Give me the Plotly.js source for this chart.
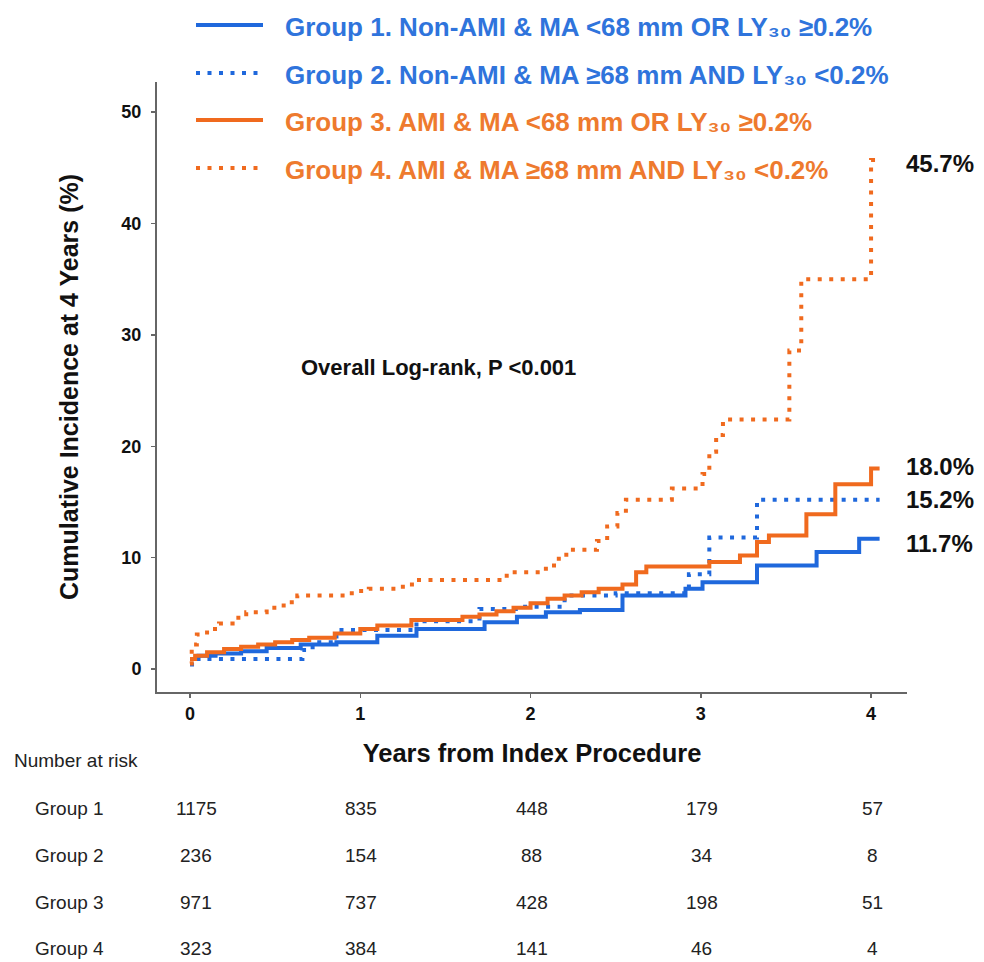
<!DOCTYPE html>
<html>
<head>
<meta charset="utf-8">
<script src="https://cdn.plot.ly/plotly-3.0.1.min.js"></script>
<style>html,body{margin:0;padding:0;background:#fff;}#chart{width:984px;height:962px;}</style>
</head>
<body>
<div id="chart"></div>
<script>
// ---- data ----
const g1x = [0, 0.05, 0.15, 0.3, 0.45, 0.65, 0.86, 1.1, 1.33, 1.73, 1.92, 2.09, 2.29, 2.54, 2.91, 3.01, 3.33, 3.68, 3.93, 4.05];
const g1y = [0.9, 1.2, 1.4, 1.6, 1.9, 2.2, 2.4, 3.0, 3.6, 4.2, 4.7, 5.1, 5.3, 6.6, 7.2, 7.8, 9.3, 10.5, 11.7, 11.7];

const g2x = [0, 0.04, 0.66, 0.72, 0.86, 1.33, 1.7, 1.95, 2.2, 2.5, 2.93, 3.05, 3.33, 4.05];
const g2y = [0.4, 0.9, 1.7, 2.4, 3.5, 4.3, 5.4, 5.6, 6.6, 6.8, 8.5, 11.8, 15.2, 15.2];

const g3x = [0, 0.03, 0.1, 0.2, 0.3, 0.4, 0.5, 0.6, 0.7, 0.85, 1.0, 1.1, 1.3, 1.6, 1.7, 1.8, 1.9, 2.0, 2.1, 2.2, 2.3, 2.4, 2.54, 2.62, 2.68, 3.05, 3.23, 3.33, 3.40, 3.62, 3.79, 4.0, 4.05];
const g3y = [0.9, 1.2, 1.5, 1.8, 2.0, 2.2, 2.4, 2.6, 2.8, 3.2, 3.6, 3.9, 4.4, 4.7, 4.9, 5.2, 5.5, 5.9, 6.3, 6.6, 6.9, 7.2, 7.6, 8.7, 9.2, 9.6, 10.2, 11.4, 12.0, 13.9, 16.6, 18.0, 18.0];

const g4x = [0, 0.01, 0.04, 0.1, 0.17, 0.25, 0.33, 0.45, 0.55, 0.63, 0.95, 1.05, 1.25, 1.33, 1.86, 2.09, 2.15, 2.21, 2.39, 2.45, 2.51, 2.56, 2.83, 3.01, 3.05, 3.09, 3.13, 3.52, 3.59, 4.0, 4.05];
const g4y = [0.5, 2.2, 3.1, 3.6, 4.1, 4.6, 5.1, 5.5, 6.0, 6.6, 7.0, 7.2, 7.6, 8.0, 8.7, 9.3, 9.9, 10.7, 11.5, 12.8, 14.0, 15.2, 16.2, 17.5, 19.5, 21.0, 22.4, 28.6, 35.0, 45.7, 45.7];

const groupNames = [
  "Group 1. Non-AMI &amp; MA &lt;68 mm OR LY₃₀ ≥0.2%",
  "Group 2. Non-AMI &amp; MA ≥68 mm AND LY₃₀ &lt;0.2%",
  "Group 3. AMI &amp; MA &lt;68 mm OR LY₃₀ ≥0.2%",
  "Group 4. AMI &amp; MA ≥68 mm AND LY₃₀ &lt;0.2%"
];
const endLabels = ["11.7%", "15.2%", "18.0%", "45.7%"];
const endValues = [11.7, 15.2, 18.0, 45.7];

const riskTimes = [0, 1, 2, 3, 4];
const riskLabels = ["Group 1", "Group 2", "Group 3", "Group 4"];
const risk1 = [1175, 835, 448, 179, 57];
const risk2 = [236, 154, 88, 34, 8];
const risk3 = [971, 737, 428, 198, 51];
const risk4 = [323, 384, 141, 46, 4];

const xTicks = [0, 1, 2, 3, 4];
const yTicks = [0, 10, 20, 30, 40, 50];

// ---- styles ----
const BLUE = "#1f68dc";
const ORANGE = "#f06a1e";
const BLUE_TXT = "#2f74dc";
const ORANGE_TXT = "#ee7a2e";
const FONT = "Liberation Sans, Arial, sans-serif";
const DOT = "4px,7.5px";

const series = [
  {x: g1x, y: g1y, color: BLUE, dash: "solid"},
  {x: g2x, y: g2y, color: BLUE, dash: DOT},
  {x: g3x, y: g3y, color: ORANGE, dash: "solid"},
  {x: g4x, y: g4y, color: ORANGE, dash: DOT}
];

const traces = series.map((s, i) => ({
  type: "scatter", mode: "lines", x: s.x, y: s.y,
  name: riskLabels[i],
  line: {shape: "hv", color: s.color, width: 4, dash: s.dash},
  showlegend: false, hoverinfo: "skip"
}));

// pixel helpers for the paper frame (plot area 157..907 x 82..692)
const L = 157, R = 907, T = 82, B = 692;
const px = v => (v - L) / (R - L);
const py = v => 1 - (v - T) / (B - T);

const shapes = [];
const annotations = [];

// legend (manual, to match long line samples)
const legY = [25, 73, 120, 168];
const legColors = [BLUE, BLUE, ORANGE, ORANGE];
const legTxt = [BLUE_TXT, BLUE_TXT, ORANGE_TXT, ORANGE_TXT];
const legDash = ["solid", DOT, "solid", DOT];
for (let i = 0; i < 4; i++) {
  shapes.push({type: "line", xref: "paper", yref: "paper",
    x0: px(196), x1: px(263), y0: py(legY[i]), y1: py(legY[i]),
    line: {color: legColors[i], width: 4, dash: legDash[i]}});
  annotations.push({xref: "paper", yref: "paper", x: px(283), y: py(legY[i] + 2),
    xanchor: "left", yanchor: "middle", showarrow: false, text: groupNames[i],
    font: {family: FONT, size: 26, color: legTxt[i], weight: "bold"}});
}

// end labels
const endShift = [-5, 0, 2, -4];
for (let i = 0; i < 4; i++) {
  annotations.push({xref: "x", yref: "y", x: 4.05, y: endValues[i], xshift: 24, yshift: endShift[i],
    xanchor: "left", yanchor: "middle", showarrow: false, text: endLabels[i],
    font: {family: FONT, size: 24, color: "#111", weight: "bold"}});
}

// log-rank text
annotations.push({xref: "paper", yref: "paper", x: px(438), y: py(367), xanchor: "center", yanchor: "middle",
  showarrow: false, text: "Overall Log-rank, P &lt;0.001",
  font: {family: FONT, size: 22, color: "#111", weight: "bold"}});

// number at risk table
annotations.push({xref: "paper", yref: "paper", x: px(12), y: py(760), xanchor: "left", yanchor: "middle",
  showarrow: false, text: "Number at risk", font: {family: FONT, size: 19, color: "#222"}});
const riskRows = [risk1, risk2, risk3, risk4];
const rowY = [808, 855, 902, 948];
for (let r = 0; r < 4; r++) {
  annotations.push({xref: "paper", yref: "paper", x: px(69), y: py(rowY[r]), xanchor: "center", yanchor: "middle",
    showarrow: false, text: riskLabels[r], font: {family: FONT, size: 19, color: "#222"}});
  for (let c = 0; c < riskTimes.length; c++) {
    annotations.push({xref: "x", yref: "paper", x: riskTimes[c], xshift: c === 0 ? 6 : 1, y: py(rowY[r]),
      xanchor: "center", yanchor: "middle", showarrow: false, text: String(riskRows[r][c]),
      font: {family: FONT, size: 19, color: "#222"}});
  }
}

const layout = {
  width: 984, height: 962,
  margin: {l: L, r: 984 - R, t: T, b: 962 - B, pad: 0},
  paper_bgcolor: "#fff", plot_bgcolor: "#fff",
  showlegend: false,
  xaxis: {
    range: [-0.194, 4.211], tickvals: xTicks, ticktext: xTicks.map(String),
    showline: true, linecolor: "#666", linewidth: 2,
    ticks: "outside", ticklen: 4, tickcolor: "#666", tickwidth: 1.5,
    showgrid: false, zeroline: false,
    tickfont: {family: FONT, size: 18, color: "#111", weight: "bold"},
    title: {text: "Years from Index Procedure", standoff: 22,
      font: {family: FONT, size: 25.5, color: "#111", weight: "bold"}}
  },
  yaxis: {
    range: [-2.06, 52.7], tickvals: yTicks, ticktext: yTicks.map(String),
    showline: true, linecolor: "#666", linewidth: 2,
    ticks: "outside", ticklen: 4, tickcolor: "#666", tickwidth: 1.5,
    showgrid: false, zeroline: false, ticklabelstandoff: 6,
    tickfont: {family: FONT, size: 18, color: "#111", weight: "bold"},
    title: {text: "Cumulative Incidence at 4 Years (%)", standoff: 36,
      font: {family: FONT, size: 25, color: "#111", weight: "bold"}}
  },
  shapes: shapes,
  annotations: annotations
};

Plotly.newPlot("chart", traces, layout, {staticPlot: true, displayModeBar: false});
</script>
</body>
</html>
